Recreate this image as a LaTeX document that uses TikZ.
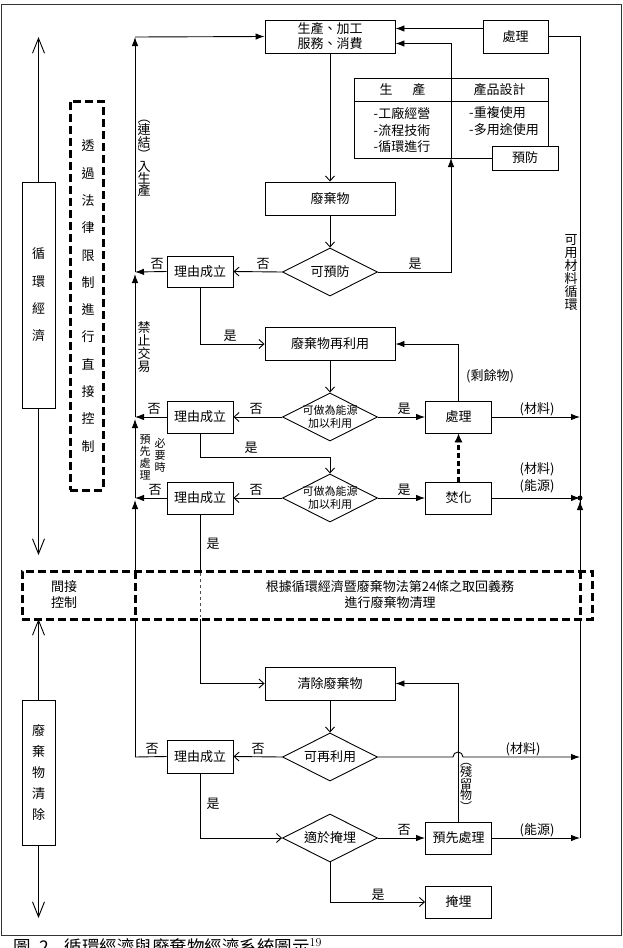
\documentclass[tikz,border=0pt]{standalone}
\usepackage{fontspec}
\newfontfamily\cjk{Noto Sans CJK TC}
\usetikzlibrary{arrows.meta,shapes.geometric,calc}
\begin{document}
\begin{tikzpicture}[x=1pt,y=-1pt,
  line width=0.9pt,
  every node/.style={font=\cjk\fontsize{13}{15}\selectfont},
  bx/.style={draw, minimum width=130pt, minimum height=33pt, inner sep=0pt, align=center},
  sbx/.style={draw, minimum width=66pt, minimum height=32pt, inner sep=0pt, align=center},
  dia/.style={draw, diamond, minimum width=95pt, minimum height=48pt, inner sep=0pt},
  lbl/.style={inner sep=0pt},
  fa/.style={-{Latex[length=9pt,width=6.5pt]}},
  oa/.style={-{Straight Barb[length=5pt,width=9pt]}},
  ba/.style={-{Straight Barb[length=15pt,width=12pt]}},
  thd/.style={line width=3pt, dash pattern=on 8pt off 4pt},
  vt/.style={inner sep=0pt, align=center},
]
\useasboundingbox (0,0) rectangle (622,948);
\draw[line width=1pt, draw=black!80] (1,4) rectangle (621,935);

% ---------- left column ----------
\node[draw, minimum width=33pt, minimum height=226pt, inner sep=0pt] (ce) at (38.5,295) {};
\node[vt, font=\cjk\fontsize{13}{27.3}\selectfont] (cet) at (ce) {循\\環\\經\\濟};
\coordinate (ceu) at (38.5,37);
\coordinate (ced) at (38.5,555);
\draw[ba] (ce.north) -- (ceu);
\draw[ba] (ce.south) -- (ced);

\node[draw, minimum width=33pt, minimum height=145pt, inner sep=0pt] (wc) at (38.5,772.5) {};
\node[vt, font=\cjk\fontsize{13}{21}\selectfont] (wct) at (wc) {廢\\棄\\物\\清\\除};
\coordinate (wcu) at (38.5,619);
\coordinate (wcd) at (38.5,918);
\draw[ba] (wc.north) -- (wcu);
\draw[ba] (wc.south) -- (wcd);

\node[draw, thd, minimum width=33pt, minimum height=389pt, inner sep=0pt] (db1) at (86.5,295.5) {};
\node[vt, font=\cjk\fontsize{13}{27.3}\selectfont] (db1t) at (88,296) {透\\過\\法\\律\\限\\制\\進\\行\\直\\接\\控\\制};

% ---------- top ----------
\node[bx] (p) at (330,36.5) {生產、加工\\服務、消費};
\node[sbx, minimum width=65pt, minimum height=33pt] (t1) at (515.5,36.5) {處理};
\draw[fa] ([yshift=8pt]t1.west) -- ([yshift=8pt]t1.west -| p.east);

% table
\draw (354,78) rectangle (548,158);
\draw (354,101) -- (548,101);
\draw (451,78) -- (451,158);
\node (th1) at (402.5,90) {生\hspace{20pt}產};
\node (th2) at (499.5,90) {產品設計};
\node[align=left, inner sep=0pt, font=\cjk\fontsize{13}{16.5}\selectfont] (tl) at (402,130) {-工廠經營\\-流程技術\\-循環進行};
\node[align=left, inner sep=0pt, font=\cjk\fontsize{13}{16.5}\selectfont] (tr) at (504,121) {-重複使用\\-多用途使用};
\node[draw, fill=white, minimum width=66pt, minimum height=24pt, inner sep=0pt] (pv) at (525,158) {預防};
\coordinate (tt) at (451,78);
\coordinate (tb) at (451,158);
\draw[fa] (tt) |- ([yshift=-7pt]p.east);

% right return line
\coordinate (rb) at (580,838);
\draw (t1.east) -| (rb);
\node[vt, font=\cjk\fontsize{13}{13}\selectfont] (rt) at (571,272) {可\\用\\材\\料\\循\\環};

% ---------- main flow ----------
\node[bx] (w) at (330,198.5) {廢棄物};
\draw[oa] (p.south) -- (w.north);

\node[dia] (d1) at (330,272) {};
\node (d1t) at (d1) {可預防};
\draw[oa] (w.south) -- (d1.north);
\node[sbx, minimum height=31pt] (r1) at (200,271.5) {理由成立};
\draw[oa] (d1.west) -- (r1.east);
\coordinate (j1) at (135,272);
\draw[fa] (r1.west) -- (j1);
\draw[fa] (d1.east) -| (tb);
\node[lbl] (l1) at (263,264) {否};
\node[lbl] (l2) at (157,264) {否};
\node[lbl] (l3) at (415,264) {是};

\node[bx] (ru) at (330,344) {廢棄物再利用};
\draw[oa] (r1.south) |- (ru.west);
\node[lbl] (l4) at (230,336) {是};

\node[sbx] (t2) at (458.5,417) {處理};
\draw[fa] (t2.north) |- (ru.east);
\node[lbl] (l5) at (490,376) {(剩餘物)};

\node[dia] (d2) at (330,417) {};
\node[align=center, inner sep=0pt, font=\cjk\fontsize{11}{13}\selectfont] (d2t) at (d2) {可做為能源\\加以利用};
\draw[oa] (ru.south) -- (d2.north);
\node[sbx] (r2) at (200,417) {理由成立};
\draw[oa] (d2.west) -- (r2.east);
\coordinate (j2) at (135,417);
\draw[fa] (r2.west) -- (j2);
\draw[fa] (d2.east) -- (t2.west);
\coordinate (m1) at (580,417);
\draw[fa] (t2.east) -- (m1);
\node[lbl] (l6) at (256,409) {否};
\node[lbl] (l7) at (154,409) {否};
\node[lbl] (l8) at (404,409) {是};
\node[lbl] (l9) at (537,409) {(材料)};

\node[dia] (d3) at (330,498) {};
\node[align=center, inner sep=0pt, font=\cjk\fontsize{11}{13}\selectfont] (d3t) at (d3) {可做為能源\\加以利用};
\coordinate (k2) at (330,457);
\draw[oa] (r2.south) |- (k2) -- (d3.north);
\node[lbl] (l10) at (251,448) {是};
\node[sbx] (r3) at (200,498) {理由成立};
\draw[oa] (d3.west) -- (r3.east);
\coordinate (j3) at (135,498);
\draw[fa] (r3.west) -- (j3);
\node[sbx] (inc) at (458.5,498) {焚化};
\draw[fa] (d3.east) -- (inc.west);
\draw[line width=2.6pt, dash pattern=on 5pt off 3pt] (inc.north) -- ([yshift=-9pt]t2.south);
\draw[-{Latex[length=9pt,width=8pt]}] ([yshift=-8pt]t2.south) -- (t2.south);
\coordinate (m2) at (580,498);
\draw[fa] (inc.east) -- (m2);
\fill (m2) circle[radius=2.5];
\coordinate (m2b) at (580,520);
\coordinate (m2a) at (580,501);
\draw[fa] (m2b) -- (m2a);
\node[lbl] (l11) at (256,490) {否};
\node[lbl] (l12) at (155,490) {否};
\node[lbl] (l13) at (404,490) {是};
\node[lbl, align=center, font=\cjk\fontsize{13}{17}\selectfont] (l14) at (537,478) {(材料)\\(能源)};

% left return line
\coordinate (jb) at (135,757);
\coordinate (jt) at (135,37);
\draw[fa] (jb) -- ([yshift=-2pt]j3);
\draw[fa] (j3) -- ([yshift=-2pt]j2);
\draw[fa] (j2) -- ([yshift=-2pt]j1);
\draw[fa] (j1) -- (jt);
\draw[fa] (jt) -- (p.west);
\node[vt, font=\cjk\fontsize{13}{12}\selectfont] (v1) at (144,158) {︵\\連\\結\\︶\\入\\生\\產};
\node[vt, font=\cjk\fontsize{13}{13}\selectfont] (v2) at (144,347) {禁\\止\\交\\易};
\node[vt, font=\cjk\fontsize{11}{12}\selectfont] (v3) at (145,457) {預\\先\\處\\理};
\node[vt, font=\cjk\fontsize{11}{12}\selectfont] (v4) at (160,455) {必\\要\\時};

% ---------- lower flow ----------
\node[bx] (cl) at (330,683.5) {清除廢棄物};
\draw[oa] (r3.south) |- (cl.west);
\node[lbl] (l15) at (213,544) {是};

\node[sbx] (pre) at (458.5,838) {預先處理};
\draw[fa] (pre.north) |- (cl.east);
\node[vt, font=\cjk\fontsize{12}{11.5}\selectfont] (v5) at (466,787) {︵\\殘\\留\\物\\︶};

\node[dia] (d4) at (330,757) {};
\node (d4t) at (d4) {可再利用};
\draw[oa] (cl.south) -- (d4.north);
\node[sbx, minimum height=33pt] (r4) at (200,756.5) {理由成立};
\draw[oa] (d4.west) -- (r4.east);
\draw (r4.west) -- (jb);
\coordinate (h1) at (453,757);
\coordinate (m3) at (580,757);
\draw[fa] (d4.east) -- (h1) arc[start angle=180, end angle=360, radius=5] -- (m3);
\node[lbl] (l16) at (258,749) {否};
\node[lbl] (l17) at (152,749) {否};
\node[lbl] (l18) at (523,749) {(材料)};

\node[dia] (d5) at (330,838) {};
\node (d5t) at (d5) {適於掩埋};
\draw[oa] (r4.south) |- (d5.west);
\draw[fa] (d5.east) -- (pre.west);
\draw[fa] (pre.east) -- (rb);
\node[sbx] (bur) at (458.5,902) {掩埋};
\draw[oa] (d5.south) |- (bur.west);
\node[lbl] (l19) at (213,804) {是};
\node[lbl] (l20) at (404,830) {否};
\node[lbl] (l21) at (537,830) {(能源)};
\node[lbl] (l22) at (378,895) {是};

% ---------- indirect control box ----------
\node[draw, fill=white, thd, minimum width=570pt, minimum height=48pt, inner sep=0pt] (db2) at (307,595) {};
\coordinate (dv1a) at (135,571); \coordinate (dv1b) at (135,619);
\coordinate (dv2a) at (580,571); \coordinate (dv2b) at (580,619);
\coordinate (dv3a) at (200,573); \coordinate (dv3b) at (200,617);
\draw[thd] (dv1a) -- (dv1b);
\draw[thd] (dv2a) -- (dv2b);
\draw[dashed, line width=0.8pt, draw=black!70] (dv3a) -- (dv3b);
\node[align=left, inner sep=0pt, font=\cjk\fontsize{13}{16}\selectfont] (ic) at (64,595) {間接\\控制};
\node[align=center, inner sep=0pt, font=\cjk\fontsize{13}{16}\selectfont] (law) at (390,595) {根據循環經濟暨廢棄物法第24條之取回義務\\進行廢棄物清理};

% ---------- caption ----------
\node[anchor=base west, inner sep=0pt, font=\cjk\fontsize{17.5}{20}\selectfont] (cap) at (13,953) {圖\hspace{9pt}2\hspace{15pt}循環經濟與廢棄物經濟系統圖示\raisebox{7pt}{\rmfamily\fontsize{12}{12}\selectfont 19}};
\end{tikzpicture}
\end{document}
